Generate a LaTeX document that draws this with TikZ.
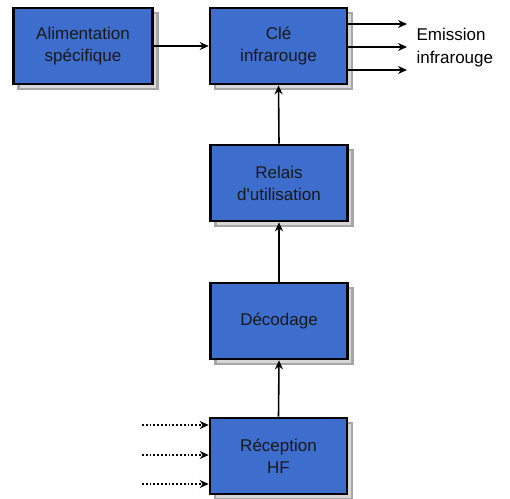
\documentclass[tikz,border=0pt]{standalone}
\usepackage{fontspec}
\setmainfont{Liberation Sans}
\usetikzlibrary{arrows.meta,shadows}
\definecolor{boxblue}{RGB}{62,110,205}
\definecolor{shadowgrey}{RGB}{215,215,215}
\tikzset{
  blk/.style={draw=black, line width=2.6pt, fill=boxblue, minimum width=137pt, minimum height=76pt,
    align=center, font=\fontsize{17}{22}\selectfont, text=black!90,
    drop shadow={shadow xshift=5pt, shadow yshift=-5pt, fill=shadowgrey, draw=gray!70, opacity=1}},
  arr/.style={line width=1.6pt, -{Stealth[length=9pt,width=8pt]}},
  dotarr/.style={line width=1.8pt, dotted, -{Stealth[length=9pt,width=8pt]}},
  lbl/.style={font=\fontsize{17}{23}\selectfont, align=left, text=black}
}
\begin{document}
\begin{tikzpicture}[x=1pt,y=-1pt]
\useasboundingbox (0,0) rectangle (510,498);
\node[blk, minimum width=139pt] (alim) at (83,46) {Alimentation\\spécifique};
\node[blk] (cle) at (278.5,46) {Clé\\infrarouge};
\node[blk] (rel) at (279,183) {Relais\\d\textquotesingle utilisation};
\node[blk] (dec) at (279,321) {Décodage};
\node[blk] (rec) at (278.5,456) {Réception\\HF};
\draw[arr] (alim.east) -- (cle.west);
\coordinate (o1) at (407,24);
\coordinate (o2) at (407,47);
\coordinate (o3) at (407,70);
\draw[arr] (cle.east |- o1) -- (o1);
\draw[arr] (cle.east |- o2) -- (o2);
\draw[arr] (cle.east |- o3) -- (o3);
\node[lbl, anchor=west] (emi) at (413,48) {Emission\\infrarouge};
\draw[arr] (rel.north) -- (cle.south);
\draw[arr] (dec.north) -- (rel.south);
\draw[arr] (rec.north) -- (dec.south);
\coordinate (i1) at (142,425);
\coordinate (i2) at (142,455);
\coordinate (i3) at (142,484);
\draw[dotarr] (i1) -- (i1 -| rec.west);
\draw[dotarr] (i2) -- (i2 -| rec.west);
\draw[dotarr] (i3) -- (i3 -| rec.west);
\end{tikzpicture}
\end{document}
